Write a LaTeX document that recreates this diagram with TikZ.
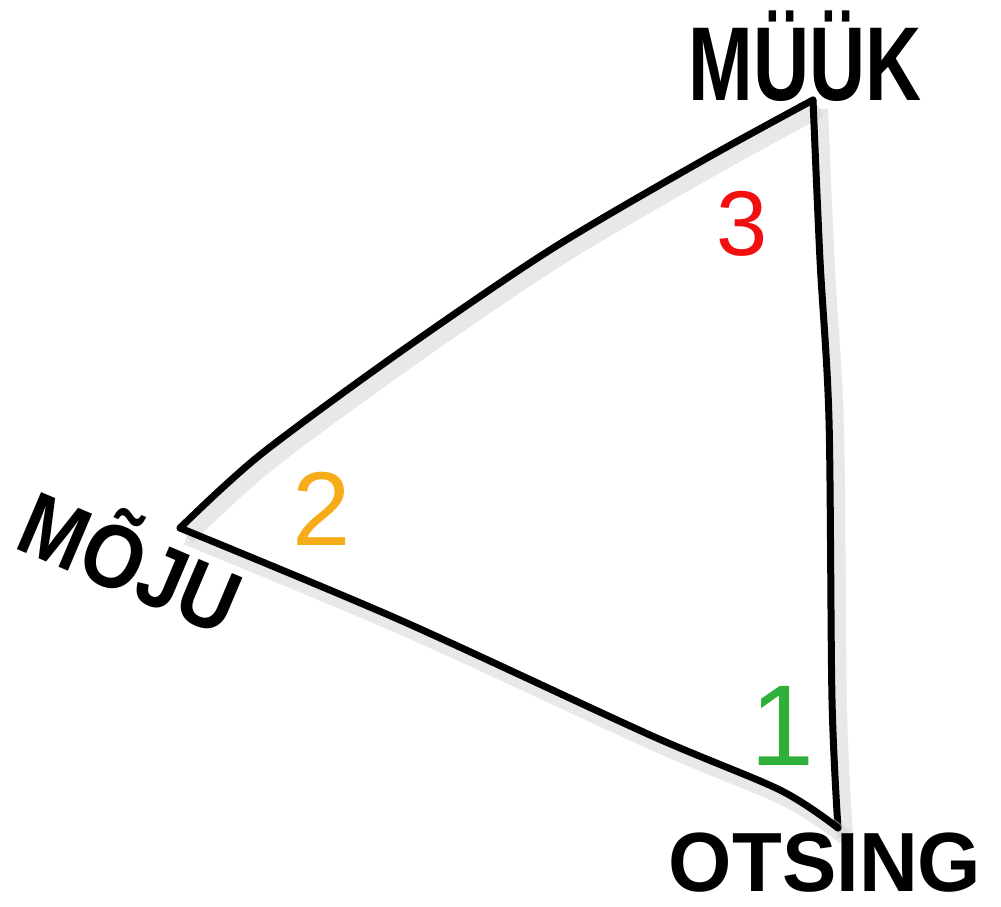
\documentclass[tikz,border=0pt]{standalone}
\usepackage{fontspec}
\setmainfont{Liberation Sans}
\usetikzlibrary{positioning}

\definecolor{numred}{HTML}{F20F0F}
\definecolor{numorange}{HTML}{F6AC19}
\definecolor{numgreen}{HTML}{2FB03A}

\begin{document}
\begin{tikzpicture}[x=1pt, y=-1pt,
  edge/.style={line width=7pt, line cap=round, line join=round,
    preaction={draw=black!20, line width=16pt, opacity=0.45, transform canvas={shift={(7pt,-9pt)}}}},
  word/.style={inner sep=0pt, anchor=base, transform shape},
  num/.style={inner sep=0pt, anchor=base}]
\useasboundingbox[fill=white] (0,0) rectangle (1001,906);

% corners of the triangle
\coordinate (muuk) at (813,100);
\coordinate (moju) at (180,528);
\coordinate (otsing) at (838,828);

\draw[edge] plot[smooth] coordinates {(moju) (260,455) (400,352) (550,250) (700,162) (muuk)};
\draw[edge] plot[smooth] coordinates {(muuk) (820,260) (829,420) (832,700) (otsing)};
\draw[edge] plot[smooth] coordinates {(moju) (400,620) (650,735) (780,790) (otsing)};

% labels
\node[word, xscale=0.74, font=\fontsize{105}{105}\selectfont\bfseries] (muuklab) at (805,100) {MÜÜK};
\node[word, rotate=-23, xscale=0.88, font=\fontsize{90}{90}\selectfont\bfseries] (mojulab) at (118,592) {MÕJU};
\node[word, xscale=0.97, font=\fontsize{84}{84}\selectfont\bfseries] (otsinglab) at (825,891) {OTSING};

% numbers
\node[num, text=numred, font=\fontsize{92}{92}\selectfont] (three) at (742,255) {3};
\node[num, text=numorange, font=\fontsize{105}{105}\selectfont] (two) at (322,545) {2};
\node[num, text=numgreen, font=\fontsize{115}{115}\selectfont] (one) at (782,765) {1};
\end{tikzpicture}
\end{document}
